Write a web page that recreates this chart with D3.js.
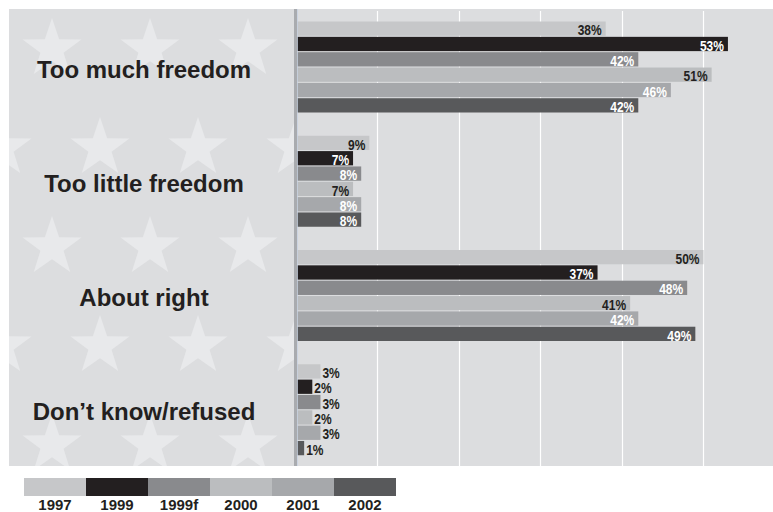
<!DOCTYPE html>
<html>
<head>
<meta charset="utf-8">
<script src="https://cdn.jsdelivr.net/npm/d3@7"></script>
<style>
  html, body { margin: 0; padding: 0; background: #ffffff; }
  svg { display: block; }
</style>
</head>
<body>
<script>
// ---- Data ----
const categories = ["Too much freedom", "Too little freedom", "About right", "Don\u2019t know/refused"];
const years = ["1997", "1999", "1999f", "2000", "2001", "2002"];
const v1997  = [38, 9, 50, 3];
const v1999  = [53, 7, 37, 2];
const v1999f = [42, 8, 48, 3];
const v2000  = [51, 7, 41, 2];
const v2001  = [46, 8, 42, 3];
const v2002  = [42, 8, 49, 1];
const gridTicks = [10, 20, 30, 40, 50];

const seriesValues = [v1997, v1999, v1999f, v2000, v2001, v2002];
const colors = ["#c6c7c9", "#231f20", "#898a8d", "#bbbdbf", "#a6a8ab", "#58595b"];
const labelColors = ["#231f20", "#ffffff", "#ffffff", "#231f20", "#ffffff", "#ffffff"];

const W = 773, H = 512;
const bg = { x0: 9, y0: 9, x1: 773, y1: 466 };
const axisX = 296;

const svg = d3.select("body").append("svg").attr("width", W).attr("height", H);

// background
svg.append("rect").attr("x", bg.x0).attr("y", bg.y0)
  .attr("width", bg.x1 - bg.x0).attr("height", bg.y1 - bg.y0).attr("fill", "#dcdddf");

// stars in left panel
const defs = svg.append("defs");
defs.append("clipPath").attr("id", "leftClip").append("rect")
  .attr("x", bg.x0).attr("y", bg.y0).attr("width", 294 - bg.x0).attr("height", bg.y1 - bg.y0);
function starPath(cx, cy, R, r) {
  const pts = [];
  for (let i = 0; i < 10; i++) {
    const rad = i % 2 === 0 ? R : r;
    const a = -Math.PI / 2 + i * Math.PI / 5;
    pts.push([cx + rad * Math.cos(a), cy + rad * Math.sin(a)]);
  }
  return "M" + pts.map(p => p.join(",")).join("L") + "Z";
}
const starRows = [
  { y: 49,  xs: [52, 150, 248] },
  { y: 148, xs: [2, 100, 198, 296] },
  { y: 247, xs: [52, 150, 248] },
  { y: 346, xs: [2, 100, 198, 296] },
  { y: 445, xs: [52, 150, 248] }
];
const starG = svg.append("g").attr("clip-path", "url(#leftClip)");
starRows.forEach(row => row.xs.forEach(x => {
  starG.append("path").attr("d", starPath(x, row.y, 31, 12.2)).attr("fill", "#e8e9eb");
}));

// scales
const x = d3.scaleLinear().domain([0, 58.53]).range([axisX, W]);
const y0 = d3.scaleBand().domain(categories).range([bg.y0, bg.y1]);
const y1 = d3.scaleBand().domain(years).range([12.5, 103.5]).paddingInner(0.07);

// gridlines
svg.append("g").selectAll("line").data(gridTicks).join("line")
  .attr("x1", d => Math.round(x(d)) + 0.5).attr("x2", d => Math.round(x(d)) + 0.5)
  .attr("y1", bg.y0 + 2).attr("y2", bg.y1)
  .attr("stroke", "#ffffff").attr("stroke-width", 1.2);

// bars
const groups = svg.append("g").selectAll("g").data(categories).join("g")
  .attr("transform", d => `translate(0,${y0(d)})`);

const condense = 0.8;
groups.each(function(cat, ci) {
  const g = d3.select(this);
  years.forEach((yr, si) => {
    const v = seriesValues[si][ci];
    const by = y1(yr), bh = y1.bandwidth();
    g.append("rect").attr("x", x(0)).attr("y", by)
      .attr("width", x(v) - x(0)).attr("height", bh).attr("fill", colors[si]);
    const inside = v >= 5;
    const tx = inside ? x(v) - 4 : x(v) + 2;
    g.append("text")
      .attr("transform", `translate(${tx},${by + bh - 0.5}) scale(${condense},1)`)
      .attr("text-anchor", inside ? "end" : "start")
      .attr("fill", inside ? labelColors[si] : "#231f20")
      .style("font-family", "'Liberation Sans', Arial, sans-serif")
      .style("font-weight", "bold")
      .style("font-size", "15px")
      .text(v + "%");
  });
});

// axis line
svg.append("rect").attr("x", 294).attr("y", bg.y0).attr("width", 3).attr("height", bg.y1 - bg.y0)
  .attr("fill", "#a9abaf");
svg.append("rect").attr("x", 297).attr("y", bg.y0).attr("width", 0.8).attr("height", bg.y1 - bg.y0)
  .attr("fill", "#c9d3e2");

// category labels
svg.append("g").selectAll("text").data(categories).join("text")
  .attr("x", 144)
  .attr("y", d => y0(d) + y0.bandwidth() / 2 + 11.5)
  .attr("text-anchor", "middle")
  .attr("fill", "#231f20")
  .style("font-family", "'Liberation Sans', Arial, sans-serif")
  .style("font-weight", "bold")
  .style("font-size", "24px")
  .text(d => d);

// legend
const lx = d3.scaleBand().domain(years).range([24, 396]);
const leg = svg.append("g");
leg.selectAll("rect").data(years).join("rect")
  .attr("x", d => lx(d)).attr("y", 478).attr("width", lx.bandwidth()).attr("height", 18)
  .attr("fill", (d, i) => colors[i]);
leg.selectAll("text").data(years).join("text")
  .attr("x", d => lx(d) + lx.bandwidth() / 2).attr("y", 509.5)
  .attr("text-anchor", "middle").attr("fill", "#231f20")
  .style("font-family", "'Liberation Sans', Arial, sans-serif")
  .style("font-weight", "bold").style("font-size", "15px")
  .text(d => d);
</script>
</body>
</html>
